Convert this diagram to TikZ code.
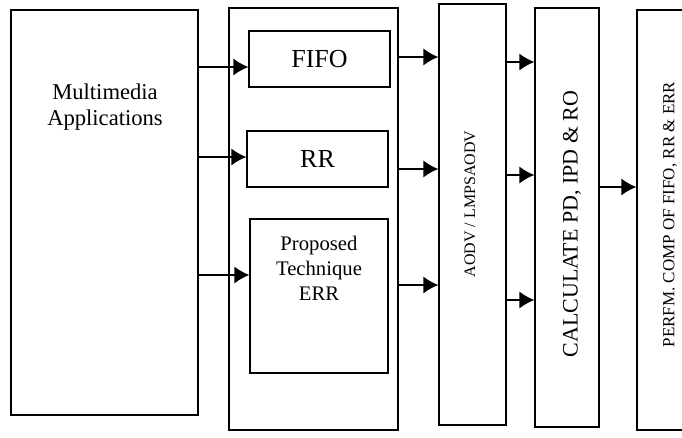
\documentclass[tikz,border=0pt]{standalone}
\usepackage{fontspec}
\setmainfont{Liberation Serif}
\usepackage{tikz}
\usetikzlibrary{arrows.meta,calc,positioning}

\begin{document}
\begin{tikzpicture}[x=1pt, y=-1pt, >={Latex[length=15pt,width=17pt]},
  blk/.style={draw, line width=1.3pt, inner sep=0pt},
  flow/.style={->, line width=1.3pt}]
  \useasboundingbox (0,0) rectangle (682,437);
  % outer blocks
  \node[blk, minimum width=187, minimum height=405] (app) at (104.5,212.5) {};
  \node[align=center, font=\fontsize{22.6}{26.5}\selectfont] (apptxt) at (105,107) {Multimedia\\Applications};
  \node[blk, minimum width=169, minimum height=422] (sched) at (313.5,219) {};
  \node[blk, minimum width=141, minimum height=56, font=\fontsize{26}{30}\selectfont] (fifo) at (319.5,59) {FIFO};
  \node[blk, minimum width=141, minimum height=56, font=\fontsize{26}{30}\selectfont] (rr) at (317.5,159) {RR};
  \node[blk, minimum width=138, minimum height=154] (err) at (319,296) {};
  \node[align=center, font=\fontsize{20.7}{25}\selectfont] (errtxt) at (319,268) {Proposed\\Technique\\ERR};
  \node[blk, minimum width=67, minimum height=421] (aodv) at (472.5,214.5) {};
  \node[rotate=90, font=\fontsize{16}{19}\selectfont] (aodvtxt) at (470,204) {AODV / LMPSAODV};
  \node[blk, minimum width=64, minimum height=419] (calc) at (567,217.5) {};
  \node[rotate=90, font=\fontsize{22}{26}\selectfont] (calctxt) at (572,224) {CALCULATE PD, IPD \& RO};
  \node[blk, minimum width=80, minimum height=420] (perf) at (677,220) {};
  \node[rotate=90, font=\fontsize{17}{20}\selectfont] (perftxt) at (670,214.5) {PERFM. COMP OF FIFO, RR \& ERR};
  % arrows
  \draw[flow] (app.east |- 0,67) -- (fifo.west |- 0,67);
  \draw[flow] (app.east |- 0,157) -- (rr.west |- 0,157);
  \draw[flow] (app.east |- 0,275) -- (err.west |- 0,275);
  \foreach \y in {57,169,285}
    \draw[flow] (sched.east |- 0,\y) -- (aodv.west |- 0,\y);
  \foreach \y in {62,175,300}
    \draw[flow] (aodv.east |- 0,\y) -- (calc.west |- 0,\y);
  \draw[flow] (calc.east |- 0,187) -- (perf.west |- 0,187);
\end{tikzpicture}
\end{document}
